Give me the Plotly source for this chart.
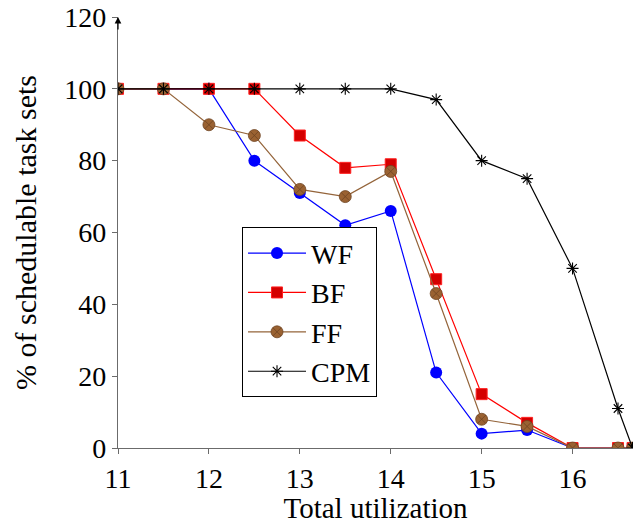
import plotly.graph_objects as go

# Total utilization values at which the task sets were evaluated
utilization = [11, 11.5, 12, 12.5, 13, 13.5, 14, 14.5, 15, 15.5, 16, 16.5, 16.66]

# Percentage of schedulable task sets for each partitioning heuristic
wf = [100, 100, 100, 80, 71, 62, 66, 21, 4, 5, 0, 0, 0]
bf = [100, 100, 100, 100, 87, 78, 79, 47, 15, 7, 0, 0, 0]
ff = [100, 100, 90, 87, 72, 70, 77, 43, 8, 6, 0, 0, 0]
cpm = [100, 100, 100, 100, 100, 100, 100, 97, 80, 75, 50, 11, 0]

x_ticks = [11, 12, 13, 14, 15, 16]
y_ticks = [0, 20, 40, 60, 80, 100, 120]

FONT = "Liberation Serif"
AXIS_GRAY = "#6b6b6b"

fig = go.Figure()

fig.add_trace(go.Scatter(
    x=utilization, y=wf, name="WF", mode="lines+markers",
    line=dict(color="#0000ff", width=1.2),
    marker=dict(symbol="circle", size=12, color="#0000ff",
                line=dict(color="#0000ff", width=0)),
))
fig.add_trace(go.Scatter(
    x=utilization, y=bf, name="BF", mode="lines+markers",
    line=dict(color="#ff0000", width=1.2),
    marker=dict(symbol="square", size=11, color="#d40000",
                line=dict(color="#ff2020", width=1)),
))
fig.add_trace(go.Scatter(
    x=utilization, y=ff, name="FF", mode="lines+markers",
    line=dict(color="#94643a", width=1.2),
    marker=dict(symbol="circle-x", size=12, color="#9a6232",
                line=dict(color="#6e4422", width=0.8)),
))
fig.add_trace(go.Scatter(
    x=utilization, y=cpm, name="CPM", mode="lines+markers",
    line=dict(color="#000000", width=1.2),
    marker=dict(symbol="asterisk-open", size=10,
                line=dict(color="#000000", width=1.1)),
))

# Arrow tip on top of the y axis
fig.add_annotation(
    x=11, y=120, xref="x", yref="y",
    ax=0, ay=14, axref="pixel", ayref="pixel",
    showarrow=True, arrowhead=2, arrowsize=1.1, arrowwidth=1.2,
    arrowcolor="#000000", text="",
)

fig.update_layout(
    width=633, height=524,
    margin=dict(l=118, r=0, t=17, b=76),
    paper_bgcolor="white", plot_bgcolor="white",
    font=dict(family=FONT, size=28, color="black"),
    showlegend=True,
    legend=dict(
        x=0.2408, y=0.512, xanchor="left", yanchor="top",
        bgcolor="white", bordercolor="black", borderwidth=1,
        font=dict(family=FONT, size=28, color="black"),
        itemwidth=58, tracegroupgap=0,
    ),
)

fig.update_xaxes(
    range=[11, 16.665],
    tickvals=x_ticks, ticktext=[str(v) for v in x_ticks],
    ticks="outside", ticklen=5, tickcolor=AXIS_GRAY, tickwidth=1,
    showline=True, linecolor=AXIS_GRAY, linewidth=1.3,
    showgrid=False, zeroline=False,
    tickfont=dict(family=FONT, size=28),
    title=dict(text="Total utilization", font=dict(family=FONT, size=29), standoff=9),
)
fig.update_yaxes(
    range=[0, 120],
    tickvals=y_ticks, ticktext=[str(v) for v in y_ticks],
    ticks="outside", ticklen=5, tickcolor=AXIS_GRAY, tickwidth=1,
    showline=True, linecolor=AXIS_GRAY, linewidth=1.3,
    showgrid=False, zeroline=False,
    tickfont=dict(family=FONT, size=28),
    title=dict(text="% of schedulable task sets", font=dict(family=FONT, size=30), standoff=18),
)

fig.write_html("out.html")
